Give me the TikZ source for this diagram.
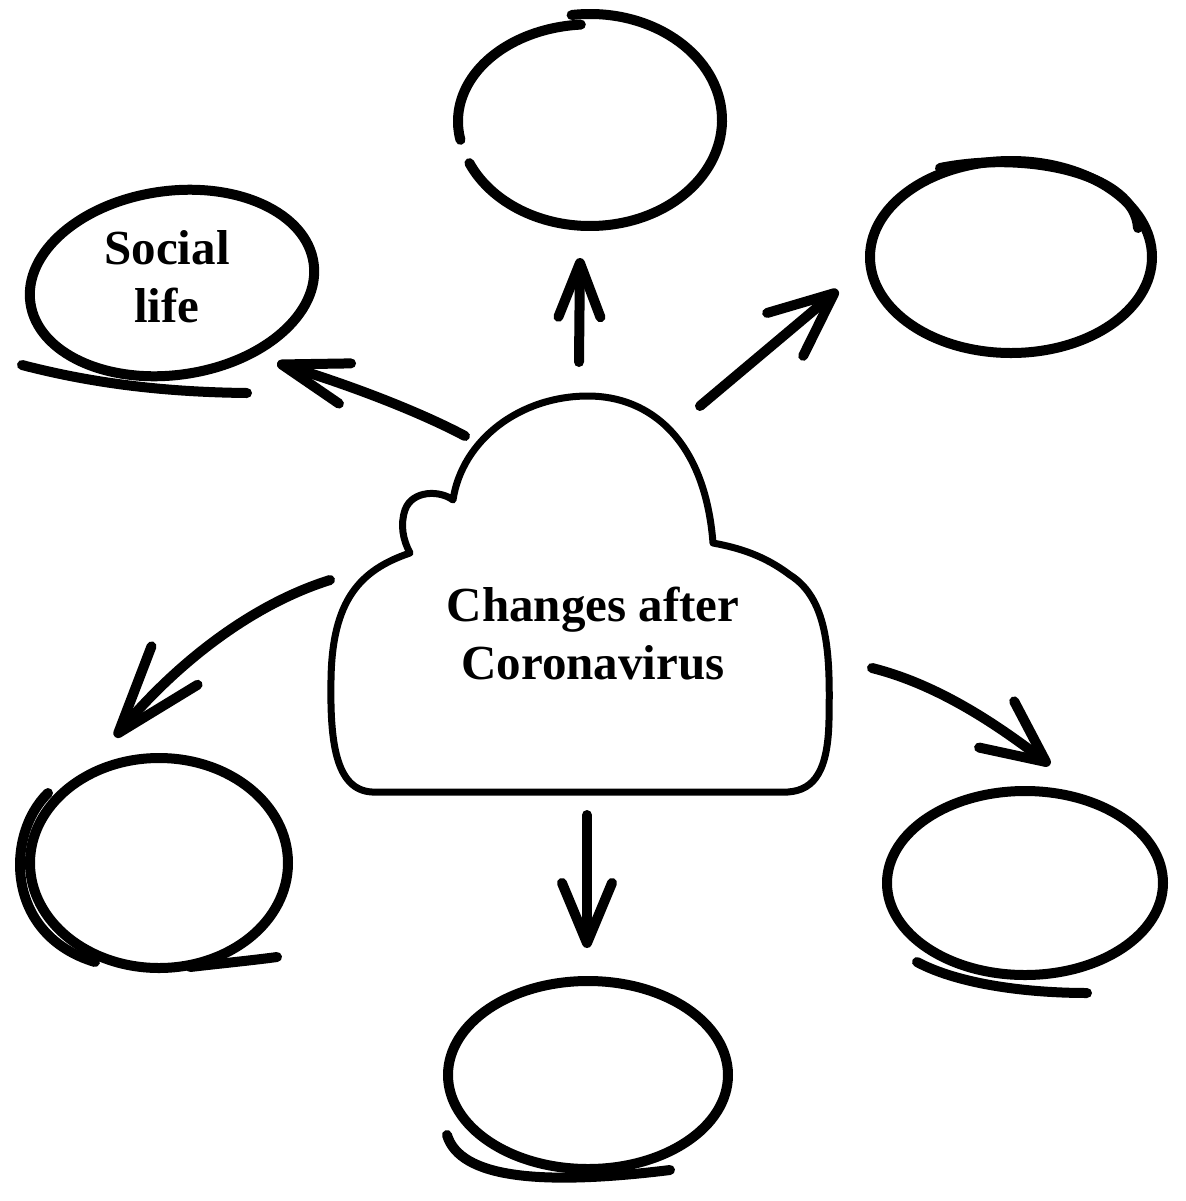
\documentclass[tikz,border=0pt]{standalone}
\usepackage{fontspec}
\setmainfont{Liberation Serif}
\usetikzlibrary{shapes.geometric,arrows.meta}
\begin{document}
\begin{tikzpicture}[x=0.5pt,y=-0.5pt,
  ring/.style={draw, ellipse, line width=5pt, inner sep=0pt},
  spot/.style={ellipse, inner sep=0pt},
  stroke/.style={line width=5pt, line cap=round},
  arr/.style 2 args={line width=5pt, line cap=round, -{Straight Barb[length=#1,width=#2,round]}},
  lbl/.style={font=\bfseries\fontsize{24.5}{29}\selectfont, align=center}]
\useasboundingbox (0,0) rectangle (1186,1201);
% rings
\node[spot, minimum width=132pt, minimum height=105pt] (top) at (590,120) {};
\draw[stroke, shift={(590,120)}] (262:132 and 106) arc[start angle=262, end angle=516, x radius=132, y radius=106];
\draw[stroke, shift={(590,120)}] (169:132 and 104) arc[start angle=169, end angle=266, x radius=132, y radius=97];
\node[ring, minimum width=141pt, minimum height=96pt] (topright) at (1011,257) {};
\node[ring, minimum width=143pt, minimum height=92pt, rotate=8] (social) at (172,283) {};
\node[ring, minimum width=129pt, minimum height=105pt] (botleft) at (159,863) {};
\node[ring, minimum width=138pt, minimum height=92pt] (botright) at (1025,883) {};
\node[ring, minimum width=140pt, minimum height=94pt] (bottom) at (588,1075) {};
% extra strokes of the rings
\draw[stroke] (22,365) .. controls (80,380) and (150,392) .. (247,393);
\draw[stroke] (940,168) .. controls (1030,150) and (1135,175) .. (1138,228);
\draw[stroke] (48,793) .. controls (5,835) and (5,935) .. (95,962);
\draw[stroke] (190,967) .. controls (225,963) and (255,960) .. (277,957);
\draw[stroke] (917,962) .. controls (960,985) and (1030,993) .. (1087,993);
\draw[stroke] (447,1135) .. controls (460,1178) and (540,1186) .. (670,1170);
% cloud
\draw[line width=3.5pt, line join=round] (372,792) -- (788,792)
  .. controls (815,790) and (828,770) .. (829,720)
  .. controls (830,660) and (830,600) .. (790,575)
  .. controls (765,556) and (740,548) .. (713,543)
  .. controls (705,440) and (650,396) .. (588,396)
  .. controls (520,396) and (462,440) .. (453,500)
  .. controls (440,490) and (412,490) .. (405,510)
  .. controls (400,525) and (403,540) .. (410,553)
  .. controls (360,570) and (332,600) .. (331,680)
  .. controls (330,740) and (335,790) .. (372,792) -- cycle;
\node[lbl] (cloud) at (593,634) {Changes after\\Coronavirus};
\node[lbl] (sociallbl) at (167,277) {Social\\life};
% arrow end points
\coordinate (aUs) at (579,362);  \coordinate (aUe) at (580,258);
\coordinate (aURs) at (700,406); \coordinate (aURe) at (838,290);
\coordinate (aULs) at (465,436); \coordinate (aULe) at (277,363);
\coordinate (aDLs) at (330,580); \coordinate (aDLe) at (115,737);
\coordinate (aDRs) at (872,668); \coordinate (aDRe) at (1050,765);
\coordinate (aDs) at (587,815);  \coordinate (aDe) at (587,948);
\draw[arr={27pt}{21pt}] (aUs) -- (aUe);
\draw[arr={32pt}{28pt}] (aURs) -- (aURe);
\draw[arr={33pt}{21pt}] (aULs) .. controls (420,412) and (350,385) .. (aULe);
\draw[arr={44pt}{30pt}] (aDLs) .. controls (250,605) and (175,665) .. (aDLe);
\draw[arr={31pt}{29pt}] (aDRs) .. controls (940,685) and (1000,727) .. (aDRe);
\draw[arr={30pt}{25pt}] (aDs) -- (aDe);
\end{tikzpicture}
\end{document}
